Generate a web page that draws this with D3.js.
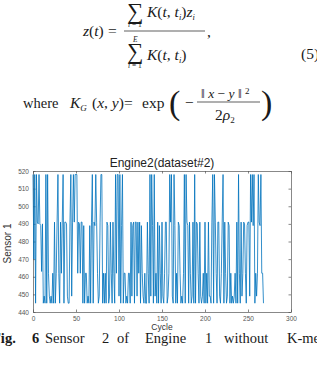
<!DOCTYPE html>
<html>
<head>
<meta charset="utf-8">
<script src="https://cdn.jsdelivr.net/npm/d3@7"></script>
<style>
  body { margin: 0; background: #fff; }
  svg { display: block; }
  .math { font-family: "Liberation Serif", "DejaVu Serif", serif; fill: #1a1a1a; }
  .tick text { font-family: "Liberation Sans", Arial, sans-serif; font-size: 6.5px; fill: #555; }
</style>
</head>
<body>
<div id="chart"></div>
<script>
var svgWidth = 317;
var svgHeight = 365;

// plot box (MATLAB style axes)
var margin = { top: 171, right: 26, bottom: 53, left: 33 };
var width = svgWidth - margin.left - margin.right;
var height = svgHeight - margin.top - margin.bottom;

// data: one value per cycle
var sensorValues = [
  518, 470, 518, 445, 518, 491, 490, 518, 490, 489,
  463, 490, 445, 449, 445, 518, 445, 518, 462, 449,
  445, 449, 445, 462, 445, 491, 445, 462, 491, 518,
  462, 445, 491, 462, 491, 518, 445, 491, 491, 490,
  449, 445, 445, 491, 518, 449, 491, 518, 491, 518,
  518, 518, 462, 491, 490, 462, 491, 491, 445, 489,
  445, 462, 462, 445, 449, 445, 489, 445, 491, 518,
  445, 491, 489, 518, 491, 462, 445, 449, 491, 518,
  518, 445, 462, 445, 462, 445, 491, 489, 445, 449,
  491, 462, 445, 491, 462, 445, 518, 462, 518, 518,
  449, 518, 445, 489, 518, 445, 462, 462, 445, 449,
  445, 462, 462, 445, 491, 449, 489, 491, 445, 491,
  491, 449, 491, 462, 491, 445, 489, 462, 449, 445,
  462, 445, 445, 491, 462, 445, 518, 449, 518, 489,
  445, 518, 449, 462, 445, 491, 445, 489, 462, 445,
  491, 449, 445, 462, 491, 491, 445, 449, 462, 518,
  491, 518, 449, 445, 518, 489, 445, 462, 445, 491,
  489, 462, 445, 449, 445, 462, 518, 445, 518, 491,
  489, 445, 491, 462, 445, 449, 491, 445, 518, 445,
  491, 490, 462, 445, 491, 449, 445, 449, 462, 445,
  491, 445, 462, 445, 491, 449, 449, 445, 491, 518,
  445, 518, 491, 462, 445, 491, 491, 449, 445, 462,
  491, 518, 445, 491, 462, 445, 449, 491, 489, 445,
  462, 445, 449, 445, 449, 462, 445, 491, 445, 518,
  462, 445, 491, 449, 462, 491, 490, 462, 445, 489,
  491, 491, 449, 518, 491, 518, 489, 518, 445, 462,
  449, 462, 518, 491, 489, 518, 462, 462, 445
];
var xTicks = [0, 50, 100, 150, 200, 250, 300];
var yTicks = [440, 450, 460, 470, 480, 490, 500, 510, 520];
var chartTitle = "Engine2(dataset#2)";
var xLabel = "Cycle";
var yLabel = "Sensor 1";
var captionWords = [
  { t: "Fig.", b: true, x: -8 }, { t: "6", b: true, x: 32 },
  { t: "Sensor", x: 45 }, { t: "2", x: 102 }, { t: "of", x: 117 },
  { t: "Engine", x: 145 }, { t: "1", x: 205 }, { t: "without", x: 224 },
  { t: "K-mean", x: 287 }
];

var svg = d3.select("#chart")
  .append("svg")
  .attr("width", svgWidth)
  .attr("height", svgHeight);

// ---- equation (5) and the kernel line ----
var eq = svg.append("g").attr("class", "math");

function addText(x, y, size, parts, extra) {
  var t = eq.append("text").attr("x", x).attr("y", y).attr("font-size", size);
  parts.forEach(function (p) {
    var s = t.append("tspan").text(p.s);
    if (p.i) s.attr("font-style", "italic");
    if (p.dy) s.attr("dy", p.dy);
    if (p.fs) s.attr("font-size", p.fs);
    if (p.x != null) s.attr("x", p.x);
  });
  if (extra) extra(t);
  return t;
}

var fs = 15.5;
// numerator
addText(127, 19, 23, [{ s: "∑" }]);
addText(147, 17, fs, [{ s: "K", i: true }, { s: "(" }, { s: "t", i: true }, { s: ", " },
  { s: "t", i: true }, { s: "i", i: true, fs: 8.5, dy: 2.5 }, { s: ")", dy: -2.5 },
  { s: "z", i: true }, { s: "i", i: true, fs: 8.5, dy: 2.5 }]);
addText(128, 27, 7.5, [{ s: "i", i: true }, { s: " = 1" }]);
// left side
addText(83, 36, fs, [{ s: "z", i: true }, { s: "(" }, { s: "t", i: true }, { s: ")" }, { s: "=", x: 108 }]);
eq.append("line").attr("x1", 124).attr("x2", 205).attr("y1", 31).attr("y2", 31)
  .attr("stroke", "#1a1a1a").attr("stroke-width", 0.7);
addText(207, 37, fs, [{ s: "," }]);
// denominator
addText(133, 42, 7.5, [{ s: "E", i: true }]);
addText(127, 59, 23, [{ s: "∑" }]);
addText(147, 60, fs, [{ s: "K", i: true }, { s: "(" }, { s: "t", i: true }, { s: ", " },
  { s: "t", i: true }, { s: "i", i: true, fs: 8.5, dy: 2.5 }, { s: ")", dy: -2.5 }]);
addText(128, 68, 7.5, [{ s: "i", i: true }, { s: " = 1" }]);
addText(301, 59, fs, [{ s: "(5)" }]);

// kernel line
addText(23, 108, 14.5, [{ s: "where" }]);
addText(70, 108, fs, [{ s: "K", i: true }, { s: "G", i: true, fs: 9, dy: 3 },
  { s: "(", dy: -3, x: 92 }, { s: "x", i: true }, { s: ", " }, { s: "y", i: true }, { s: ")" },
  { s: "=", x: 124 }, { s: "exp", x: 142 }]);
addText(169, 114, 34, [{ s: "(" }], function (t) { t.attr("font-weight", 100); });
addText(185, 108, fs, [{ s: "−" }]);
addText(201, 98, 13.5, [{ s: "‖ " }, { s: "x", i: true }, { s: " − " }, { s: "y", i: true },
  { s: " ‖ " }, { s: "2", fs: 9, dy: -4 }]);
eq.append("line").attr("x1", 197).attr("x2", 260).attr("y1", 102).attr("y2", 102)
  .attr("stroke", "#1a1a1a").attr("stroke-width", 0.7);
addText(215, 120, fs, [{ s: "2" }, { s: "ρ", i: true }, { s: "2", fs: 9, dy: 3 }]);
addText(261, 114, 34, [{ s: ")" }]);

// ---- chart ----
var chartGroup = svg.append("g")
  .attr("transform", `translate(${margin.left}, ${margin.top})`);

var xLinearScale = d3.scaleLinear().domain([0, 300]).range([0, width]);
var yLinearScale = d3.scaleLinear().domain([440, 520]).range([height, 0]);

var axisColor = "#555";

// bottom + top, left + right axes with inward ticks
var bottomAxis = d3.axisBottom(xLinearScale).tickValues(xTicks).tickSizeInner(-2.5).tickSizeOuter(0).tickPadding(4);
var topAxis = d3.axisTop(xLinearScale).tickValues(xTicks).tickSizeInner(-2.5).tickSizeOuter(0).tickFormat("");
var leftAxis = d3.axisLeft(yLinearScale).tickValues(yTicks).tickSizeInner(-2.5).tickSizeOuter(0).tickPadding(4);
var rightAxis = d3.axisRight(yLinearScale).tickValues(yTicks).tickSizeInner(-2.5).tickSizeOuter(0).tickFormat("");

chartGroup.append("g").attr("transform", `translate(0, ${height})`).call(bottomAxis);
chartGroup.append("g").call(topAxis);
chartGroup.append("g").call(leftAxis);
chartGroup.append("g").attr("transform", `translate(${width}, 0)`).call(rightAxis);

chartGroup.selectAll(".domain").attr("stroke", axisColor).attr("stroke-width", 0.7);
chartGroup.selectAll(".tick line").attr("stroke", axisColor).attr("stroke-width", 0.7);
chartGroup.selectAll(".tick text").attr("fill", "#555");

// the sensor trace
var line = d3.line()
  .x((d, i) => xLinearScale(i))
  .y(d => yLinearScale(d));

chartGroup.append("path")
  .datum(sensorValues)
  .attr("d", line)
  .attr("fill", "none")
  .attr("stroke", "#0072BD")
  .attr("stroke-width", 0.8)
  .attr("stroke-linejoin", "round");

// title and axis labels
chartGroup.append("text")
  .attr("x", width / 2)
  .attr("y", -4)
  .attr("text-anchor", "middle")
  .attr("font-family", "Liberation Sans, Arial, sans-serif")
  .attr("font-size", 12)
  .attr("fill", "#222")
  .text(chartTitle);

chartGroup.append("text")
  .attr("x", width / 2)
  .attr("y", height + 18)
  .attr("text-anchor", "middle")
  .attr("font-family", "Liberation Sans, Arial, sans-serif")
  .attr("font-size", 8.5)
  .attr("fill", "#333")
  .text(xLabel);

chartGroup.append("text")
  .attr("transform", "rotate(-90)")
  .attr("x", -(height / 2) - 2)
  .attr("y", -22)
  .attr("text-anchor", "middle")
  .attr("font-family", "Liberation Sans, Arial, sans-serif")
  .attr("font-size", 10)
  .attr("fill", "#333")
  .text(yLabel);

// caption under the figure
var caption = svg.append("text")
  .attr("class", "math")
  .attr("y", 343)
  .attr("font-size", 14.5);
captionWords.forEach(function (w) {
  caption.append("tspan")
    .attr("x", w.x)
    .attr("font-weight", w.b ? "bold" : "normal")
    .text(w.t);
});
</script>
</body>
</html>
